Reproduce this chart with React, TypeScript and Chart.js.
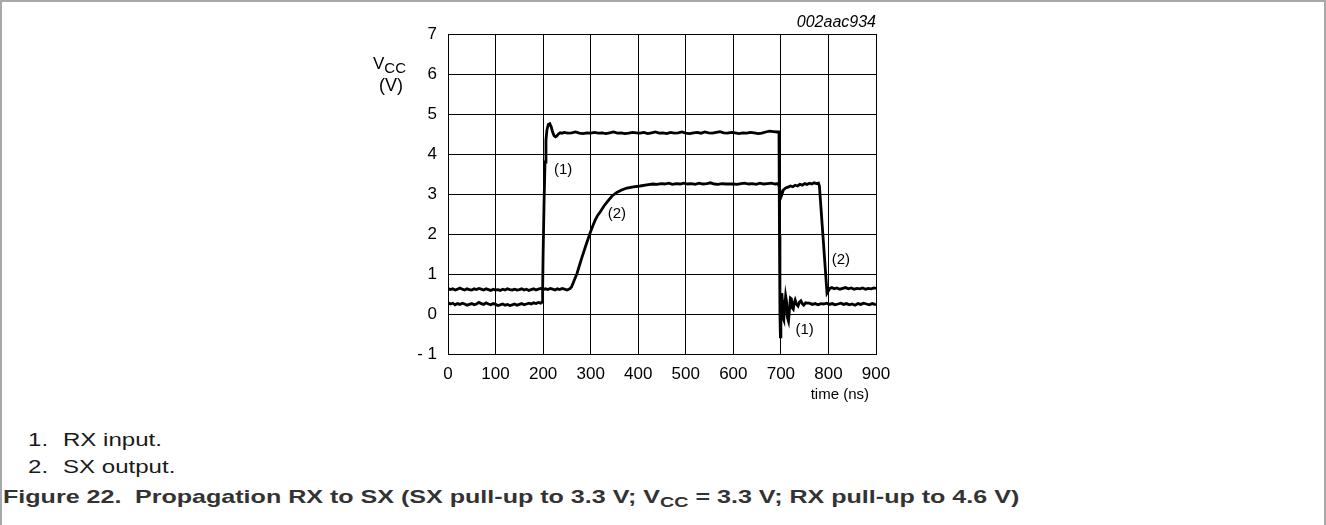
import React, { useEffect, useRef } from "react";
import { Chart, registerables } from "chart.js";

Chart.register(...registerables);

// ---------- data ----------
const xTicks = [0, 100, 200, 300, 400, 500, 600, 700, 800, 900];
const yTicks = [-1, 0, 1, 2, 3, 4, 5, 6, 7];

// (1) RX input
const rxTime = [
  0, 5, 10, 15, 20, 25, 30, 35, 40, 45, 50, 55, 60, 65, 70, 75, 80, 85, 90, 95,
  100, 105, 110, 115, 120, 125, 130, 135, 140, 145, 150, 155, 160, 165, 170, 175, 180, 185, 190, 195, 198,
  199, 200, 202, 204, 206, 208, 211, 214, 217, 220, 223, 226, 229, 232, 236, 240,
  244, 252, 260, 268, 276, 284, 292, 300, 308, 316, 324, 332, 340, 348, 356, 364, 372, 380, 388, 396,
  404, 412, 420, 428, 436, 444, 452, 460, 468, 476, 484, 492, 500, 508, 516, 524, 532, 540, 548, 556,
  564, 572, 580, 588, 596, 604, 612, 620, 628, 636, 644, 652, 660, 668, 676, 684, 692,
  696, 697, 698, 699, 700, 701, 702, 703, 704, 705, 706, 708, 710, 712, 714, 716, 718, 720, 722, 724,
  726, 728, 730, 733, 736, 739, 742, 745, 748, 752, 756,
  760, 766, 772, 778, 784, 790, 796, 802, 808, 814, 820, 826, 832, 838, 844, 850, 856, 862, 868, 874,
  880, 886, 892, 898, 900,
];
const rxVolt = [
  0.28, 0.25, 0.27, 0.23, 0.26, 0.24, 0.27, 0.25, 0.22, 0.24, 0.26, 0.23, 0.25, 0.29, 0.26, 0.24, 0.28, 0.25, 0.23, 0.26,
  0.24, 0.21, 0.23, 0.25, 0.22, 0.24, 0.21, 0.23, 0.25, 0.22, 0.24, 0.26, 0.23, 0.25, 0.27, 0.25, 0.28, 0.26, 0.29, 0.27, 0.3,
  0.6, 1.5, 2.8, 3.8, 4.35, 4.6, 4.74, 4.76, 4.68, 4.55, 4.46, 4.43, 4.45, 4.5, 4.53, 4.52,
  4.54, 4.52, 4.53, 4.55, 4.52, 4.51, 4.53, 4.52, 4.54, 4.52, 4.53, 4.51, 4.53, 4.55, 4.52, 4.53, 4.51, 4.52, 4.54, 4.53,
  4.52, 4.54, 4.51, 4.53, 4.55, 4.52, 4.53, 4.51, 4.54, 4.52, 4.53, 4.55, 4.52, 4.51, 4.53, 4.54, 4.52, 4.55, 4.53, 4.52,
  4.54, 4.56, 4.53, 4.52, 4.54, 4.53, 4.51, 4.53, 4.52, 4.54, 4.53, 4.51, 4.52, 4.55, 4.57, 4.56, 4.55,
  4.55, 2.0, 0.0, -0.57, -0.2, 0.3, 0.52, 0.35, 0.05, -0.12, -0.15, 0.15, 0.45, 0.3, -0.1, -0.18, 0.1, 0.4, 0.38, 0.15,
  0.12, 0.28, 0.35, 0.24, 0.2, 0.3, 0.33, 0.26, 0.22, 0.28, 0.27,
  0.27, 0.24, 0.26, 0.23, 0.26, 0.25, 0.27, 0.24, 0.26, 0.23, 0.25, 0.27, 0.24, 0.26, 0.23, 0.25, 0.22, 0.26, 0.24, 0.27,
  0.25, 0.23, 0.26, 0.24, 0.25,
];

// (2) SX output
const sxTime = [
  0, 5, 10, 15, 20, 25, 30, 35, 40, 45, 50, 55, 60, 65, 70, 75, 80, 85, 90, 95,
  100, 105, 110, 115, 120, 125, 130, 135, 140, 145, 150, 155, 160, 165, 170, 175, 180, 185, 190, 195,
  200, 205, 210, 215, 220, 225, 230, 235, 240, 245, 250, 254,
  257, 260, 264, 268, 271, 276, 282, 290, 299, 305, 310, 315, 320, 328, 336, 345, 355, 365, 376, 390, 404, 418, 431,
  440, 448, 456, 464, 472, 480, 488, 496, 504, 512, 520, 528, 536, 544, 552, 560, 568, 576, 584, 592,
  600, 608, 616, 624, 632, 640, 648, 656, 664, 672, 680, 688, 695,
  698, 700, 702, 705, 710, 715, 720, 725, 730, 735, 740, 745, 750, 755, 760, 765, 770, 775, 779,
  781, 797, 800, 803, 807, 812, 818, 824, 830, 836, 842, 848, 854, 860, 866, 872, 878, 884, 890, 896, 900,
];
const sxVolt = [
  0.64, 0.61, 0.63, 0.6, 0.62, 0.65, 0.62, 0.6, 0.63, 0.61, 0.6, 0.63, 0.61, 0.64, 0.62, 0.6, 0.63, 0.61, 0.59, 0.62,
  0.6, 0.61, 0.59, 0.62, 0.6, 0.63, 0.61, 0.6, 0.62, 0.6, 0.61, 0.63, 0.6, 0.62, 0.59, 0.61, 0.63, 0.6, 0.62, 0.64,
  0.61, 0.63, 0.61, 0.64, 0.62, 0.6, 0.63, 0.61, 0.64, 0.62, 0.6, 0.62,
  0.64, 0.68, 0.8, 0.92, 1.0, 1.2, 1.43, 1.72, 2.03, 2.22, 2.36, 2.47, 2.55, 2.7, 2.82, 2.95, 3.04, 3.1, 3.15, 3.18, 3.2, 3.23, 3.25,
  3.24, 3.26, 3.25, 3.27, 3.24, 3.26, 3.25, 3.27, 3.25, 3.26, 3.24, 3.27, 3.25, 3.26, 3.28, 3.25, 3.24, 3.26, 3.25, 3.25,
  3.25, 3.24, 3.26, 3.27, 3.25, 3.26, 3.24, 3.27, 3.25, 3.26, 3.27, 3.25, 3.26,
  3.1, 2.92, 2.98, 3.1, 3.15, 3.17, 3.2, 3.18, 3.22, 3.2, 3.24, 3.22, 3.26, 3.24, 3.27, 3.25, 3.28, 3.26, 3.27,
  3.2, 0.52, 0.58, 0.64, 0.66, 0.63, 0.65, 0.62, 0.64, 0.66, 0.63, 0.65, 0.62, 0.64, 0.63, 0.65, 0.62, 0.64, 0.63, 0.65, 0.64,
];

// curve markers: [label, time, volt]
const markerLabels = ["(1)", "(2)", "(2)", "(1)"];
const markerTime = [242, 355, 826, 750];
const markerVolt = [3.6, 2.5, 1.35, -0.4];

const FONT = 'Arial, "Liberation Sans", Helvetica, sans-serif';

const textPlugin = {
  id: "figureText",
  afterDraw(chart: any) {
    const { ctx, chartArea, scales } = chart;
    const xs = scales.x;
    const ys = scales.y;
    ctx.save();
    ctx.fillStyle = "#000";
    // y title V_CC (V)
    ctx.textAlign = "left";
    ctx.textBaseline = "alphabetic";
    ctx.font = `17px ${FONT}`;
    const vx = chartArea.left - 75;
    ctx.fillText("V", vx, chartArea.top + 35);
    const vw = ctx.measureText("V").width;
    ctx.font = `15px ${FONT}`;
    ctx.fillText("CC", vx + vw, chartArea.top + 39);
    ctx.font = `18px ${FONT}`;
    ctx.textAlign = "center";
    ctx.fillText("(V)", chartArea.left - 57, chartArea.top + 57);
    // x title
    ctx.font = `15px ${FONT}`;
    ctx.textAlign = "right";
    ctx.fillText("time (ns)", chartArea.right - 7, chartArea.bottom + 45);
    // figure code
    ctx.font = `italic 16px ${FONT}`;
    ctx.fillText("002aac934", chartArea.right, chartArea.top - 7);
    // curve labels
    ctx.font = `15px ${FONT}`;
    ctx.textAlign = "center";
    ctx.textBaseline = "middle";
    for (let i = 0; i < markerLabels.length; i++) {
      ctx.fillText(markerLabels[i], xs.getPixelForValue(markerTime[i]), ys.getPixelForValue(markerVolt[i]));
    }
    ctx.restore();
  },
};

export default function App() {
  const ref = useRef<HTMLCanvasElement | null>(null);

  useEffect(() => {
    document.body.style.margin = "0";
    const canvas = ref.current;
    if (!canvas) return;
    const rx = rxTime.map((t, i) => ({ x: t, y: rxVolt[i] }));
    const sx = sxTime.map((t, i) => ({ x: t, y: sxVolt[i] }));
    const chart = new Chart(canvas, {
      type: "line",
      data: {
        datasets: [
          { label: "RX input", data: rx, borderColor: "#000", borderWidth: 2.8, pointRadius: 0, tension: 0, fill: false },
          { label: "SX output", data: sx, borderColor: "#000", borderWidth: 2.8, pointRadius: 0, tension: 0, fill: false },
        ],
      },
      options: {
        animation: false,
        responsive: false,
        devicePixelRatio: 1,
        layout: { padding: { left: 400, right: 450, top: 34, bottom: 22 } },
        plugins: { legend: { display: false }, tooltip: { enabled: false } },
        scales: {
          x: {
            type: "linear",
            min: 0,
            max: 900,
            afterFit: (s: any) => { s.height = 34; },
            afterBuildTicks: (s: any) => { s.ticks = xTicks.map((v) => ({ value: v })); },
            grid: { color: "#000", lineWidth: 1, drawTicks: false },
            border: { color: "#000", width: 1 },
            ticks: { color: "#000", font: { family: FONT, size: 17 }, padding: 10, maxRotation: 0, autoSkip: false },
          },
          y: {
            type: "linear",
            min: -1,
            max: 7,
            afterFit: (s: any) => { s.width = 48; },
            afterBuildTicks: (s: any) => { s.ticks = yTicks.map((v) => ({ value: v })); },
            grid: { color: "#000", lineWidth: 1, drawTicks: false },
            border: { color: "#000", width: 1 },
            ticks: {
              color: "#000",
              font: { family: FONT, size: 17 },
              padding: 11,
              autoSkip: false,
              callback: (v: any) => (v === -1 ? "- 1" : String(v)),
            },
          },
        },
      },
      plugins: [textPlugin],
    });
    return () => chart.destroy();
  }, []);

  const textStyle: React.CSSProperties = {
    position: "absolute",
    fontFamily: FONT,
    fontSize: 18.5,
    lineHeight: "18px",
    whiteSpace: "nowrap",
    color: "#1a1a1a",
    transformOrigin: "0 0",
  };

  return (
    <div
      style={{
        position: "relative",
        width: 1326,
        height: 525,
        boxSizing: "border-box",
        borderTop: "2px solid #a8a8a8",
        borderLeft: "2px solid #a8a8a8",
        borderRight: "2px solid #a8a8a8",
        overflow: "hidden",
        background: "#fff",
      }}
    >
      <canvas ref={ref} width={1326} height={410} style={{ position: "absolute", left: -2, top: -2, display: "block" }} />
      <div style={{ ...textStyle, left: 26, top: 429, transform: "scaleX(1.3)" }}>1.</div>
      <div style={{ ...textStyle, left: 61, top: 429, transform: "scaleX(1.3)" }}>RX input.</div>
      <div style={{ ...textStyle, left: 26, top: 456, transform: "scaleX(1.3)" }}>2.</div>
      <div style={{ ...textStyle, left: 61, top: 456, transform: "scaleX(1.3)" }}>SX output.</div>
      <div style={{ ...textStyle, left: 1, top: 486, fontWeight: "bold", color: "#333", transform: "scaleX(1.355)" }}>
        Figure 22.<span style={{ marginLeft: 10 }}>Propagation RX to SX (SX pull-up to 3.3 V; V</span>
        <span style={{ fontSize: 14.5, position: "relative", top: 4 }}>CC</span> = 3.3 V; RX pull-up to 4.6 V)
      </div>
    </div>
  );
}
